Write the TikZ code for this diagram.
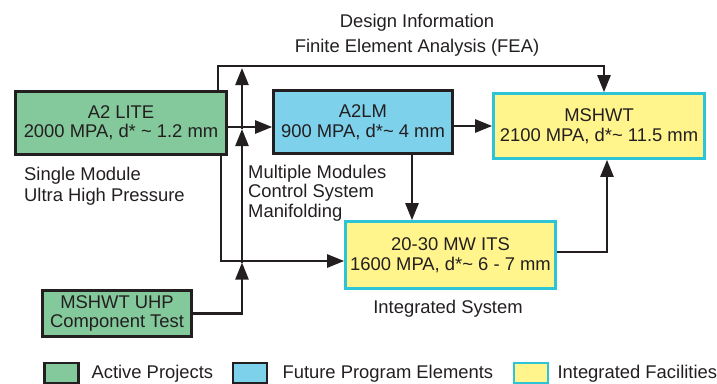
\documentclass[tikz,border=0pt]{standalone}
\usepackage{fontspec}
\setmainfont{Liberation Sans}
\usetikzlibrary{arrows.meta}

\definecolor{inkc}{HTML}{231F20}
\definecolor{activec}{HTML}{83C99B}
\definecolor{futurec}{HTML}{7DD1EB}
\definecolor{facilc}{HTML}{FFF58C}
\definecolor{facilborder}{HTML}{2CC4D6}

\tikzset{
  labelfont/.style={font=\fontsize{18.4}{19.5}\selectfont, text=inkc},
  box/.style={rectangle, inner sep=0pt, align=center, labelfont, line width=2.6pt},
  active/.style={box, draw=inkc, fill=activec},
  future/.style={box, draw=inkc, fill=futurec},
  facility/.style={box, draw=facilborder, fill=facilc},
  link/.style={draw=inkc, line width=2.4pt, -{Triangle[length=17pt,width=13pt]}},
  note/.style={labelfont, align=left, inner sep=0pt},
  keybox/.style={minimum width=34pt, minimum height=20pt},
}

\begin{document}
\begin{tikzpicture}[x=1pt,y=-1pt]
\useasboundingbox (0,0) rectangle (717,383);

% project boxes
\node[active, minimum width=211pt, minimum height=63pt] (lite) at (121,123)
  {A2 LITE\\2000 MPA, d* \textasciitilde{} 1.2 mm};
\node[future, minimum width=179pt, minimum height=63pt] (a2lm) at (363,122)
  {A2LM\\900 MPA, d*\textasciitilde{} 4 mm};
\node[facility, minimum width=211pt, minimum height=65pt] (mshwt) at (599,126)
  {MSHWT\\2100 MPA, d*\textasciitilde{} 11.5 mm};
\node[facility, minimum width=210pt, minimum height=67pt] (its) at (450.5,255)
  {20-30 MW ITS\\1600 MPA, d*\textasciitilde{} 6 - 7 mm};
\node[active, minimum width=149pt, minimum height=46pt] (uhp) at (117,313.5)
  {MSHWT UHP\\Component Test};

% routing points
\coordinate (row1) at (0,127);
\coordinate (fea) at (218,66);
\coordinate (split) at (221,261);
\coordinate (drop) at (412,0);
\coordinate (cross1) at (242,262.5);
\coordinate (cross2) at (242,129);
\coordinate (riser) at (242,68);

% connectors
\draw[link] (lite.east |- row1) -- (a2lm.west |- row1);
\draw[link] (a2lm.east |- mshwt.west) -- (mshwt.west);
\draw[link] (lite.north -| fea) -- (fea) -| ([xshift=5pt]mshwt.north);
\draw[link] (lite.south -| split) -- (split) -- (its.west |- split);
\draw[link] (a2lm.south -| drop) -- (its.north -| drop);
\draw[link] ([yshift=3pt]its.east) -| ([xshift=8pt]mshwt.south);
\draw[link] (uhp.east) -| (cross1);
\draw[link] (cross1) -- (cross2);
\draw[link] (cross2) -- (riser);

% annotations (base anchor of a multi-line node sits on its last line)
\node[labelfont, anchor=base] (design) at (417,27) {Design Information};
\node[labelfont, anchor=base] (featext) at (417,52) {Finite Element Analysis (FEA)};
\node[note, anchor=base west] (single) at (24,201.5) {Single Module\\[1.5pt]Ultra High Pressure};
\node[note, anchor=base west] (multi) at (248,217) {Multiple Modules\\Control System\\Manifolding};
\node[labelfont, anchor=base] (intsys) at (448,313) {Integrated System};

% legend
\node[active, keybox] (keyA) at (61.5,373) {};
\node[labelfont, anchor=base west] (keyAt) at (88,378) {Active Projects};
\node[future, keybox] (keyF) at (250,373) {};
\node[labelfont, anchor=base west] (keyFt) at (279,378) {Future Program Elements};
\node[facility, keybox] (keyI) at (531,373) {};
\node[labelfont, anchor=base west] (keyIt) at (554,378) {Integrated Facilities};
\end{tikzpicture}
\end{document}
